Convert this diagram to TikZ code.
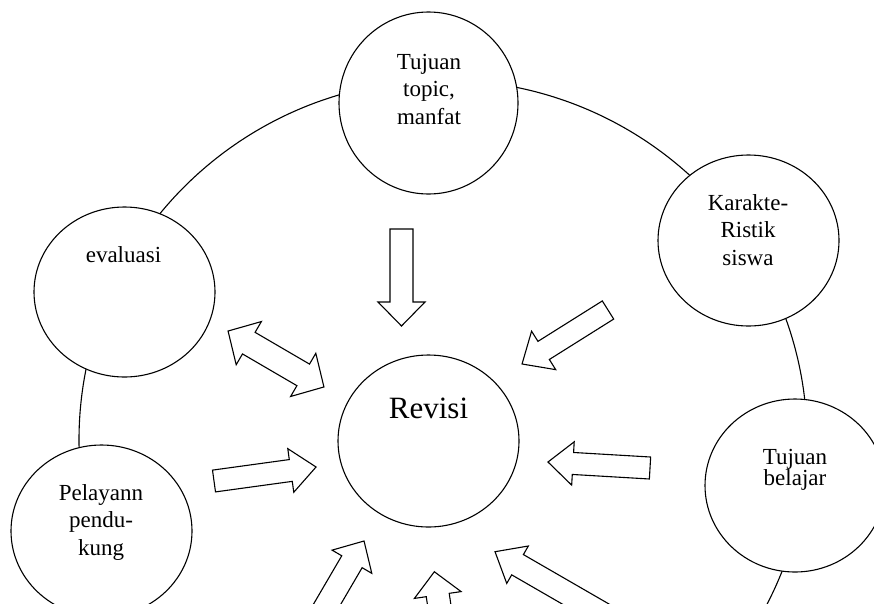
\documentclass[tikz,border=0pt]{standalone}
\usepackage{fontspec}
\setmainfont{Liberation Serif}
\usetikzlibrary{shapes.geometric}

\tikzset{
  outline/.style={draw=black, line width=1.1pt, line join=miter},
  topic/.style={outline, ellipse, fill=white, inner sep=0pt},
  lbl/.style={align=center, anchor=base, inner sep=0pt,
    font=\fontsize{23}{27.5}\selectfont},
  blk/.style={outline, fill=white},
}

% block arrow: #1 tail, #2 direction (deg), #3 length,
% #4 half shaft width, #5 half head width, #6 head length
\newcommand{\blockarrow}[6]{%
  \draw[blk, shift={(#1)}, rotate=#2]
    (0,#4) -- ({#3-#6},#4) -- ({#3-#6},#5) -- (#3,0)
    -- ({#3-#6},-#5) -- ({#3-#6},-#4) -- (0,-#4) -- cycle;}

\begin{document}
\begin{tikzpicture}[x=1pt, y=-1pt]
  \useasboundingbox (0,0) rectangle (874,603);
  \clip (0,0) rectangle (874,603);

  % ring joining the outer topics
  \draw[outline] (443,440) ellipse [x radius=364pt, y radius=360pt];

  % outer topics and the centre
  \node[topic, minimum width=179pt, minimum height=182pt] (tujuan) at (428.5,103) {};
  \node[topic, minimum width=181pt, minimum height=171pt] (karakter) at (748.5,240.5) {};
  \node[topic, minimum width=181pt, minimum height=170pt] (evaluasi) at (124.5,292) {};
  \node[topic, minimum width=181pt, minimum height=172pt] (revisi) at (428.5,441) {};
  \node[topic, minimum width=180pt, minimum height=173pt] (belajar) at (795,485.5) {};
  \node[topic, minimum width=181pt, minimum height=172pt] (layanan) at (101.5,531) {};

  % texts (base = baseline of the last line)
  \node[lbl] (tujuanT) at (429,124) {Tujuan\\topic,\\manfat};
  \node[lbl] (karakterT) at (748,265) {Karakte-\\Ristik\\siswa};
  \node[lbl] (evaluasiT) at (123.5,262.7) {evaluasi};
  \node[lbl, font=\fontsize{31}{36}\selectfont] (revisiT) at (428.5,418) {Revisi};
  \node[lbl, font=\fontsize{23}{21}\selectfont] (belajarT) at (795,485) {Tujuan\\belajar};
  \node[lbl] (layananT) at (101,555) {Pelayann\\pendu-\\kung};

  % block arrows towards the centre
  \blockarrow{401.5,229}{-90}{97}{11.5}{23.5}{24}
  \blockarrow{608,310}{-147.87}{101.5}{10.7}{22.7}{25.5}
  \blockarrow{650,468}{176.63}{102.2}{11}{21.7}{25}
  \blockarrow{214,481}{7.82}{103}{11}{22}{25.5}
  \blockarrow{303.5,644.6}{59.7}{120}{11.8}{23}{24}
  \blockarrow{445.9,650.9}{98.3}{80}{11.6}{23.6}{23.5}
  \blockarrow{607.6,616.7}{150}{130}{11.7}{21.6}{26}

  % two-headed arrow between evaluasi and the centre
  \draw[blk, shift={(276,359)}, rotate=-30.26]
    (-55.5,0) -- (-31.5,25) -- (-31.5,12.5) -- (31.5,12.5) -- (31.5,25)
    -- (55.5,0) -- (31.5,-25) -- (31.5,-12.5) -- (-31.5,-12.5)
    -- (-31.5,-25) -- cycle;
\end{tikzpicture}
\end{document}
